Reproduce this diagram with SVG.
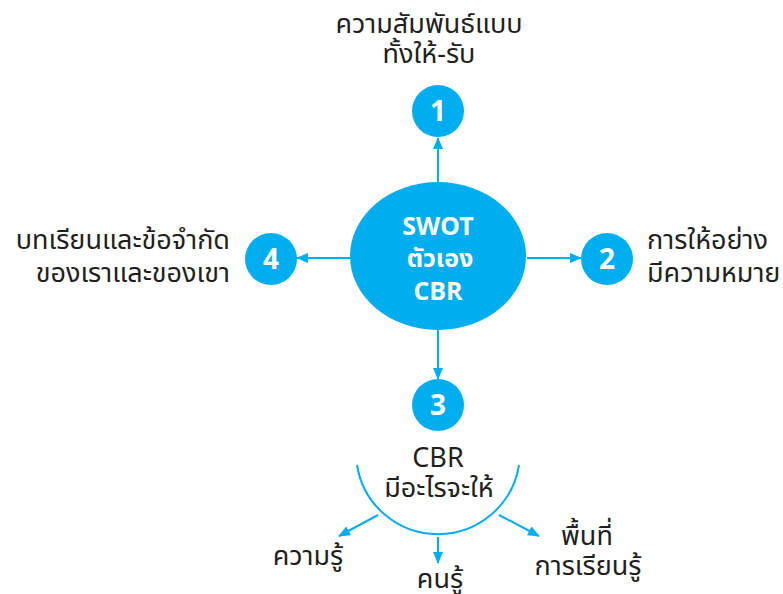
<svg xmlns="http://www.w3.org/2000/svg" width="783" height="594" viewBox="0 0 783 594">
<style>
.t{font-family:"Noto Sans Thai","Noto Sans",sans-serif;font-size:27px;fill:#231f20}
.w{font-family:"Noto Sans Thai","Noto Sans",sans-serif;font-weight:bold;fill:#ffffff;text-anchor:middle}
.n{font-size:28px}
.c{font-size:25px}
.b{fill:#00aeef}
.ln{stroke:#00aeef;stroke-width:2;fill:none}
</style>
<defs>
<marker id="ah" viewBox="0 0 12 10" refX="11" refY="5" markerWidth="12" markerHeight="10" orient="auto" markerUnits="userSpaceOnUse">
<path d="M0,0 L12,5 L0,10 z" fill="#00aeef"/>
</marker>
</defs>
<g id="connectors">
<line class="ln" x1="438" y1="182" x2="438" y2="138" marker-end="url(#ah)"/>
<line class="ln" x1="350" y1="258" x2="297" y2="258" marker-end="url(#ah)"/>
<line class="ln" x1="527" y1="258" x2="581" y2="258" marker-end="url(#ah)"/>
<line class="ln" x1="438" y1="330" x2="438" y2="379" marker-end="url(#ah)"/>
<path class="ln" d="M357,465 A82,82 0 0 0 519,465"/>
<line class="ln" x1="378" y1="515" x2="339" y2="536" marker-end="url(#ah)"/>
<line class="ln" x1="438" y1="537" x2="438" y2="563" marker-end="url(#ah)"/>
<line class="ln" x1="499" y1="515" x2="539" y2="536" marker-end="url(#ah)"/>
</g>
<g id="center">
<ellipse class="b" cx="438" cy="256" rx="88" ry="74"/>
<text class="w c" x="438" y="235">SWOT</text>
<text class="w c" x="440" y="267">ตัวเอง</text>
<text class="w c" x="438" y="300">CBR</text>
</g>
<g id="node1">
<circle class="b" cx="438" cy="111" r="26"/>
<text class="w n" x="438" y="121">1</text>
<text class="t" x="429" y="33" text-anchor="middle">ความสัมพันธ์แบบ</text>
<text class="t" x="429" y="63" text-anchor="middle">ทั้งให้-รับ</text>
</g>
<g id="node2">
<circle class="b" cx="607" cy="259" r="26"/>
<text class="w n" x="607" y="269">2</text>
<text class="t" x="647" y="249">การให้อย่าง</text>
<text class="t" x="647" y="282">มีความหมาย</text>
</g>
<g id="node3">
<circle class="b" cx="438" cy="405" r="26"/>
<text class="w n" x="438" y="415">3</text>
<text class="t" x="438" y="467" text-anchor="middle">CBR</text>
<text class="t" x="439" y="497" text-anchor="middle">มีอะไรจะให้</text>
</g>
<g id="node4">
<circle class="b" cx="271" cy="259" r="26"/>
<text class="w n" x="271" y="269">4</text>
<text class="t" x="230" y="249" text-anchor="end">บทเรียนและข้อจำกัด</text>
<text class="t" x="230" y="282" text-anchor="end">ของเราและของเขา</text>
</g>
<g id="leaf-knowledge">
<text class="t" x="308" y="565" text-anchor="middle">ความรู้</text>
</g>
<g id="leaf-people">
<text class="t" x="440" y="588" text-anchor="middle">คนรู้</text>
</g>
<g id="leaf-space">
<text class="t" x="587" y="545" text-anchor="middle">พื้นที่</text>
<text class="t" x="588" y="575" text-anchor="middle">การเรียนรู้</text>
</g>
</svg>
